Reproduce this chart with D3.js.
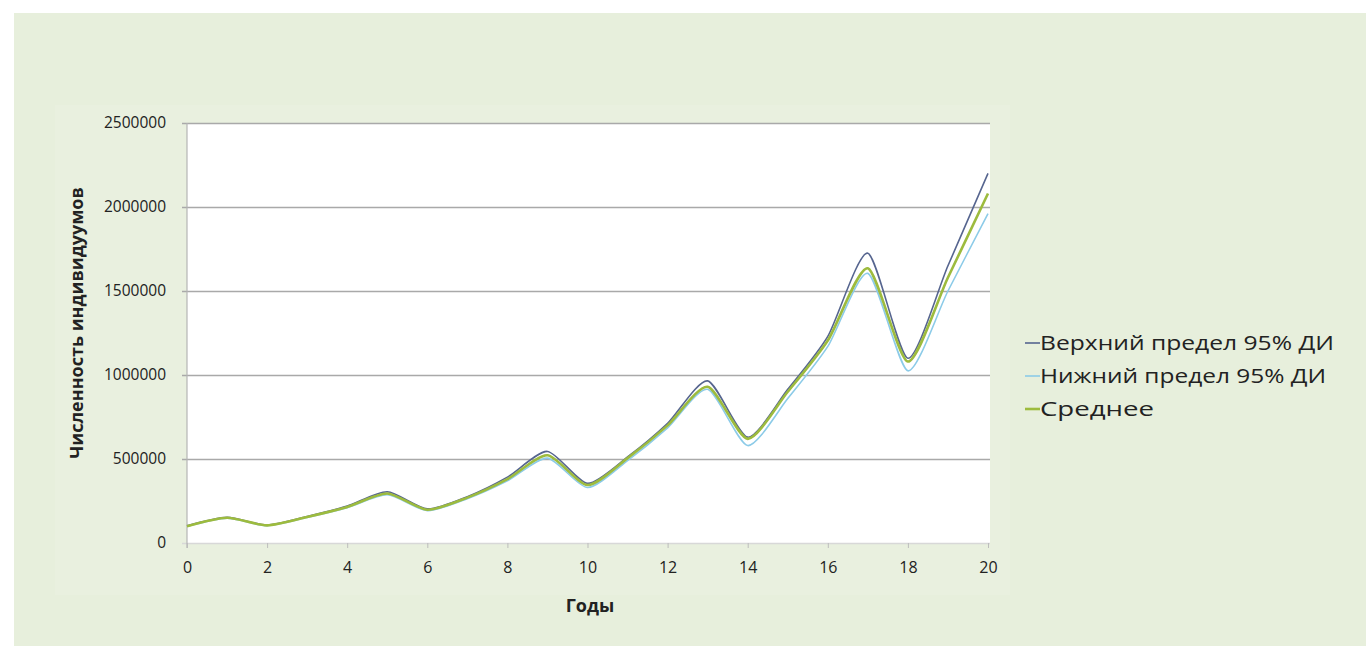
<!DOCTYPE html>
<html>
<head>
<meta charset="utf-8">
<script src="https://cdn.jsdelivr.net/npm/d3@7/dist/d3.min.js"></script>
<style>
  html, body { margin: 0; padding: 0; background: #ffffff; }
  svg { display: block; }
  text { font-family: "Open Sans", "Noto Sans", sans-serif; fill: #222; }
</style>
</head>
<body>
<svg id="chart" width="1366" height="646"></svg>
<script>
// ---- data ----
const years = [0,1,2,3,4,5,6,7,8,9,10,11,12,13,14,15,16,17,18,19,20];
const upperCI = [102000,153000,107000,158000,220000,305000,203000,276000,392000,545000,355000,512000,712000,965000,630000,915000,1230000,1725000,1100000,1650000,2200000];
const lowerCI = [98000,147000,103000,152000,210000,287000,193000,264000,370000,505000,330000,490000,685000,915000,580000,860000,1170000,1605000,1025000,1500000,1960000];
const meanVals = [100000,150000,105000,155000,215000,295000,198000,270000,380000,522000,345000,505000,700000,930000,620000,900000,1205000,1635000,1080000,1580000,2080000];
const xTicks = [0,2,4,6,8,10,12,14,16,18,20];
const yTicks = [0,500000,1000000,1500000,2000000,2500000];
const seriesNames = ["Верхний предел 95% ДИ", "Нижний предел 95% ДИ", "Среднее"];
const xTitle = "Годы";
const yTitle = "Численность индивидуумов";

// ---- layout ----
const svg = d3.select("#chart");
const plot = {left: 187, right: 990, top: 123, bottom: 543};
const x = d3.scaleLinear().domain([0, 20]).range([187, 988]);
const y = d3.scaleLinear().domain([0, 2500000]).range([plot.bottom, plot.top]);

// background
svg.append("rect").attr("x", 14).attr("y", 13).attr("width", 1366 - 14).attr("height", 646 - 13).attr("fill", "#e7efdc");
svg.append("rect").attr("x", 55).attr("y", 105).attr("width", 955).attr("height", 490).attr("fill", "#e9f0df");
// plot area
svg.append("rect").attr("x", plot.left).attr("y", plot.top)
  .attr("width", plot.right - plot.left).attr("height", plot.bottom - plot.top).attr("fill", "#ffffff");

// gridlines + y axis
const yAxis = d3.axisLeft(y).tickValues(yTicks).tickSize(-(plot.right - plot.left)).tickPadding(21)
  .tickFormat(d3.format("d"));
const gy = svg.append("g").attr("transform", `translate(${plot.left},0)`).call(yAxis);
gy.select(".domain").remove();
gy.selectAll(".tick line").attr("stroke", "#a9a9a9").attr("stroke-width", 1.3).attr("x1", -5);
gy.selectAll(".tick line").filter(d => d === 0).attr("stroke", "#d8d8d8");
gy.selectAll(".tick text").attr("font-size", 15.5).attr("fill", "#2a2a2a")
  .attr("font-family", "'Open Sans', sans-serif");

// y axis line
svg.append("line").attr("x1", plot.left).attr("x2", plot.left).attr("y1", plot.top).attr("y2", plot.bottom + 5)
  .attr("stroke", "#b5b5b5").attr("stroke-width", 1.2);

// x axis
const xAxis = d3.axisBottom(x).tickValues(xTicks).tickSize(5).tickPadding(14).tickFormat(d3.format("d"));
const gx = svg.append("g").attr("transform", `translate(0,${plot.bottom})`).call(xAxis);
gx.select(".domain").remove();
gx.selectAll(".tick line").attr("stroke", "#bdbdbd");
gx.selectAll(".tick text").attr("font-size", 16).attr("fill", "#2a2a2a")
  .attr("font-family", "'Open Sans', sans-serif");

// axis titles
svg.append("text").attr("x", 590).attr("y", 612).attr("text-anchor", "middle")
  .attr("font-size", 18).attr("font-weight", "bold").text(xTitle);
svg.append("text").attr("transform", "translate(83,323) rotate(-90)").attr("text-anchor", "middle")
  .attr("font-size", 18).attr("font-weight", "bold").text(yTitle);

// lines
const line = d3.line().x((d, i) => x(years[i])).y(d => y(d)).curve(d3.curveCardinal.tension(0.3));
const series = [
  {name: seriesNames[1], values: lowerCI, color: "#8ccbe8", width: 1.6},
  {name: seriesNames[0], values: upperCI, color: "#56658f", width: 1.6},
  {name: seriesNames[2], values: meanVals, color: "#9dbb3e", width: 2.6}
];
svg.append("g").selectAll("path").data(series).join("path")
  .attr("d", d => line(d.values)).attr("fill", "none")
  .attr("stroke", d => d.color).attr("stroke-width", d => d.width)
  .attr("stroke-linejoin", "round");

// legend
const legendItems = [series[1], series[0], series[2]];
const legendWidths = [294, 286, 114];
const lg = svg.append("g").selectAll("g").data(legendItems).join("g")
  .attr("transform", (d, i) => `translate(1025,${343 + i * 33})`);
lg.append("line").attr("x1", 0).attr("x2", 15).attr("y1", 0).attr("y2", 0)
  .attr("stroke", d => d.color).attr("stroke-width", d => d.width);
lg.append("text").attr("x", 15).attr("y", 0).attr("dy", "0.35em").attr("font-size", 20)
  .attr("textLength", (d, i) => legendWidths[i]).attr("lengthAdjust", "spacingAndGlyphs")
  .text(d => d.name);
</script>
</body>
</html>
